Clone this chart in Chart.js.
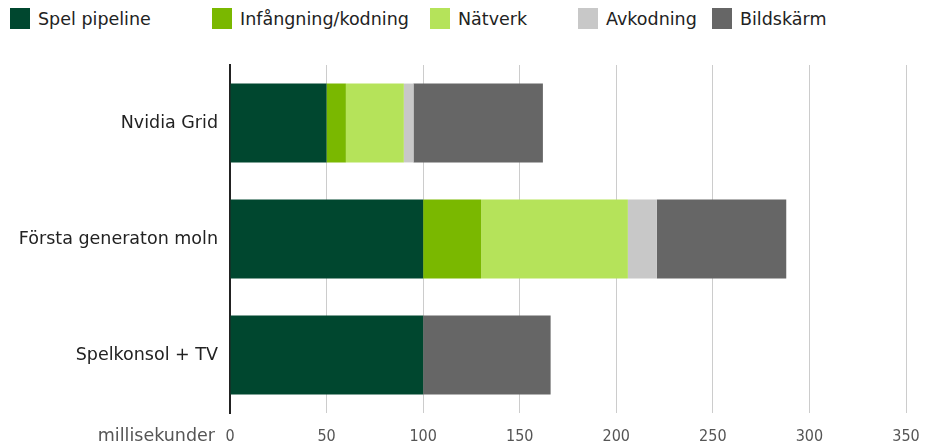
<!DOCTYPE html>
<html>
<head>
<meta charset="utf-8">
<script src="https://cdn.jsdelivr.net/npm/chart.js@4"></script>
<style>
  body { margin:0; background:#fff; font-family:"DejaVu Sans", sans-serif; }
  #wrap { position:relative; width:925px; height:445px; }
  #legend { position:absolute; left:0; top:0; width:925px; height:40px; font-size:17.5px; color:#222; }
  .item { position:absolute; top:8px; height:22px; line-height:22px; white-space:nowrap; }
  .sw { display:inline-block; width:20px; height:21px; vertical-align:top; margin-right:8px; }
  canvas { position:absolute; left:0; top:0; }
</style>
</head>
<body>
<div id="wrap">
  <div id="legend"></div>
  <canvas id="chart" width="925" height="445"></canvas>
</div>
<script>
const categories = ["Nvidia Grid", "Första generaton moln", "Spelkonsol + TV"];
const seriesNames = ["Spel pipeline", "Infångning/kodning", "Nätverk", "Avkodning", "Bildskärm"];
const spelPipeline = [50, 100, 100];
const infangning = [10, 30, 0];
const natverk = [30, 76, 0];
const avkodning = [5, 15, 0];
const bildskarm = [67, 67, 66];
const xTicks = [0, 50, 100, 150, 200, 250, 300, 350];

const colors = ["#00472f", "#7ab800", "#b5e35a", "#c8c8c8", "#666666"];
const legendLeft = [10, 212, 430, 578, 712];
const series = [spelPipeline, infangning, natverk, avkodning, bildskarm];

// html legend, irregular spacing like the original
const legend = document.getElementById("legend");
seriesNames.forEach((name, i) => {
    const el = document.createElement("div");
    el.className = "item";
    el.style.left = legendLeft[i] + "px";
    el.innerHTML = `<span class="sw" style="background:${colors[i]}"></span>${name}`;
    legend.appendChild(el);
});

const axisTitle = {
    id: "axisTitle",
    afterDraw(chart) {
        const ctx = chart.ctx;
        const x = chart.scales.x;
        ctx.save();
        ctx.font = "17.5px 'DejaVu Sans'";
        ctx.fillStyle = "#555";
        ctx.textAlign = "right";
        ctx.textBaseline = "middle";
        ctx.fillText("millisekunder", x.left - 15, 436);
        ctx.restore();
    }
};

new Chart(document.getElementById("chart"), {
    type: "bar",
    data: {
        labels: categories,
        datasets: series.map((d, i) => ({
            label: seriesNames[i],
            data: d,
            backgroundColor: colors[i],
            borderWidth: 0,
            categoryPercentage: 1,
            barPercentage: 0.68
        }))
    },
    options: {
        indexAxis: "y",
        responsive: false,
        animation: false,
        layout: { padding: { top: 65, right: 19, left: 0, bottom: 0 } },
        plugins: {
            legend: { display: false },
            tooltip: { enabled: false }
        },
        scales: {
            x: {
                stacked: true,
                min: 0,
                max: 350,
                afterBuildTicks: s => { s.ticks = xTicks.map(v => ({ value: v })); },
                afterFit: s => { s.height = 32; s.paddingLeft = 0; s.paddingRight = 0; },
                grid: { color: "#cccccc", drawTicks: false },
                border: { display: false },
                ticks: { color: "#555", font: { family: "DejaVu Sans Condensed", size: 16 }, padding: 14 }
            },
            y: {
                stacked: true,
                afterFit: s => { s.width = 230; },
                grid: { display: false },
                border: { color: "#222", width: 2 },
                ticks: { color: "#222", font: { family: "DejaVu Sans", size: 17.5 }, padding: 4 }
            }
        }
    },
    plugins: [axisTitle]
});
</script>
</body>
</html>
